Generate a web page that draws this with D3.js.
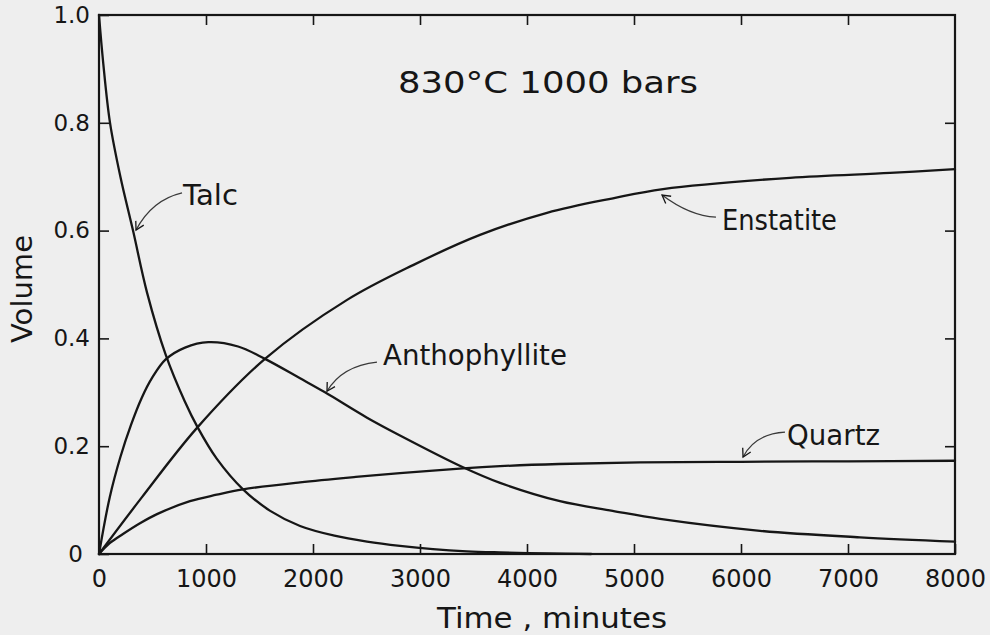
<!DOCTYPE html>
<html><head><meta charset="utf-8">
<script src="https://cdn.jsdelivr.net/npm/d3@7"></script>
<style>html,body{margin:0;padding:0;background:#eeeeee;} svg{display:block;}</style>
</head><body><svg id="c" width="990" height="635"></svg>
<script>
// ---- data ----
const xTicks = [0,1000,2000,3000,4000,5000,6000,7000,8000];
const xTickLabels = ["0","1000","2000","3000","4000","5000","6000","7000","8000"];
const yTicks = [0,0.2,0.4,0.6,0.8,1.0];
const yTickLabels = ["0","0.2","0.4","0.6","0.8","1.0"];

const talcT = [0,40,103,200,318,449,623,800,922,1100,1346,1600,1879,2200,2505,2813,3121,3439,3748,4200,4600];
const talcV = [1.0,0.91,0.80,0.70,0.60,0.485,0.37,0.284,0.235,0.177,0.12,0.08,0.052,0.034,0.023,0.015,0.009,0.005,0.003,0.001,0.0];

const anthT = [0,100,200,300,400,500,623,804,1022,1300,1551,1879,2112,2505,2813,3402,3748,4308,4800,5243,6178,7112,8000];
const anthV = [0,0.105,0.18,0.24,0.29,0.328,0.361,0.383,0.393,0.385,0.362,0.326,0.30,0.253,0.22,0.161,0.132,0.098,0.080,0.065,0.043,0.031,0.023];

const enstT = [0,400,916,1551,2315,2935,3561,4187,4804,5271,6458,7393,8000];
const enstV = [0,0.105,0.234,0.362,0.471,0.536,0.592,0.633,0.660,0.677,0.698,0.707,0.714];

const qtzT = [0,100,224,383,542,850,1100,1346,1879,2400,2813,3402,3748,4299,5056,6000,7000,8000];
const qtzV = [0,0.02,0.037,0.057,0.074,0.098,0.11,0.12,0.133,0.143,0.150,0.159,0.163,0.167,0.170,0.171,0.172,0.173];

const seriesNames = ["Talc","Anthophyllite","Enstatite","Quartz"];
const title = "830°C 1000 bars";
const xTitle = "Time , minutes";
const yTitle = "Volume";

// ---- layout (annotation anchors in data units) ----
const annot = {
  "Talc":          {text:[785,0.647], len:55,  arrow:[[776,0.670],[495,0.657],[346,0.601]]},
  "Anthophyllite": {text:[2654,0.351], len:184, arrow:[[2598,0.356],[2271,0.349],[2131,0.302]]},
  "Enstatite":     {text:[5822,0.601], len:115, arrow:[[5766,0.625],[5523,0.627],[5262,0.666]]},
  "Quartz":        {text:[6430,0.202], len:93,  arrow:[[6411,0.226],[6131,0.223],[6019,0.180]]}
};

const ink = "#161616";
const font = "'DejaVu Sans', sans-serif";
const fw = 400;
const svg = d3.select("#c");
svg.append("rect").attr("width",990).attr("height",635).attr("fill","#eeeeee");

const x = d3.scaleLinear().domain([0,8000]).range([99,955]);
const y = d3.scaleLinear().domain([0,1]).range([554,15]);

// axes
function styleAxis(g){
  g.select(".domain").remove();
  g.selectAll(".tick line").attr("stroke",ink).attr("stroke-width",1.6);
  g.selectAll(".tick text").attr("fill",ink).attr("font-family",font).attr("font-weight",fw);
}
const gx = svg.append("g").attr("transform",`translate(0,${y(0)})`)
  .call(d3.axisBottom(x).tickValues(xTicks).tickSize(-10).tickPadding(16)
        .tickFormat((d,i)=>xTickLabels[i]));
styleAxis(gx); gx.selectAll(".tick text").attr("font-size",24);

const gt = svg.append("g").attr("transform",`translate(0,${y(1)})`)
  .call(d3.axisTop(x).tickValues(xTicks.slice(1,-1)).tickSize(-10).tickFormat(""));
styleAxis(gt);

const gy = svg.append("g").attr("transform",`translate(${x(0)},0)`)
  .call(d3.axisLeft(y).tickValues(yTicks).tickSize(-10).tickPadding(9)
        .tickFormat((d,i)=>yTickLabels[i]));
styleAxis(gy); gy.selectAll(".tick text").attr("font-size",23)
  .attr("dx",(d)=> d===0 ? -7 : 0);

const gr = svg.append("g").attr("transform",`translate(${x(8000)},0)`)
  .call(d3.axisRight(y).tickValues(yTicks.slice(1,-1)).tickSize(-10).tickFormat(""));
styleAxis(gr);

// frame
svg.append("rect").attr("x",x(0)).attr("y",y(1)).attr("width",x(8000)-x(0)).attr("height",y(0)-y(1))
  .attr("fill","none").attr("stroke",ink).attr("stroke-width",2.2);

// curves
const line = d3.line().x(d=>x(d[0])).y(d=>y(d[1])).curve(d3.curveCatmullRom.alpha(0.5));
const series = [
  d3.zip(talcT,talcV), d3.zip(anthT,anthV), d3.zip(enstT,enstV), d3.zip(qtzT,qtzV)
];
svg.append("g").selectAll("path").data(series).join("path")
  .attr("d",line).attr("fill","none").attr("stroke",ink).attr("stroke-width",2.3)
  .attr("stroke-linejoin","round").attr("stroke-linecap","round");

// arrow marker
svg.append("defs").append("marker").attr("id","ah").attr("markerUnits","userSpaceOnUse")
  .attr("viewBox","-10 -6 12 12").attr("refX",0).attr("refY",0)
  .attr("markerWidth",12).attr("markerHeight",12).attr("orient","auto")
  .append("path").attr("d","M-8,-4.5 L0,0 L-8,4.5").attr("fill","none")
  .attr("stroke",ink).attr("stroke-width",1.3);

// annotations
seriesNames.forEach(n=>{
  const a = annot[n];
  svg.append("text").attr("x",x(a.text[0])).attr("y",y(a.text[1]))
    .attr("font-family",font).attr("font-weight",fw).attr("font-size",29).attr("fill",ink)
    .attr("textLength",a.len).attr("lengthAdjust","spacingAndGlyphs").text(n);
  const p = d3.path();
  p.moveTo(x(a.arrow[0][0]),y(a.arrow[0][1]));
  p.quadraticCurveTo(x(a.arrow[1][0]),y(a.arrow[1][1]),x(a.arrow[2][0]),y(a.arrow[2][1]));
  svg.append("path").attr("d",p.toString()).attr("fill","none").attr("stroke","#3a3a3a")
    .attr("stroke-width",1.3).attr("marker-end","url(#ah)");
});

// titles
svg.append("text").attr("x",398).attr("y",93).attr("font-family",font).attr("font-weight",fw).attr("font-size",30)
  .attr("fill",ink).attr("textLength",300).attr("lengthAdjust","spacingAndGlyphs").text(title);
svg.append("text").attr("x",437).attr("y",628).attr("font-family",font).attr("font-weight",fw).attr("font-size",29)
  .attr("fill",ink).attr("textLength",230).attr("lengthAdjust","spacingAndGlyphs").text(xTitle);
svg.append("text").attr("transform","translate(32,289) rotate(-90)").attr("text-anchor","middle")
  .attr("font-family",font).attr("font-weight",fw).attr("font-size",29).attr("fill",ink)
  .attr("textLength",108).attr("lengthAdjust","spacingAndGlyphs").text(yTitle);
</script></body></html>
